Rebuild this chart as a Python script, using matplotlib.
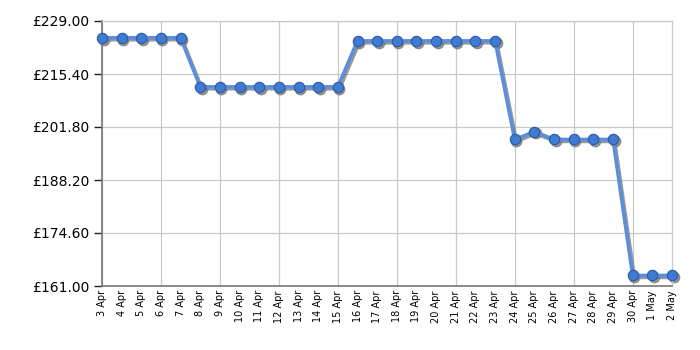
import matplotlib
matplotlib.use("Agg")
import matplotlib.pyplot as plt
import matplotlib.transforms as mtransforms
import numpy as np

dates = ["3 Apr", "4 Apr", "5 Apr", "6 Apr", "7 Apr", "8 Apr", "9 Apr", "10 Apr",
         "11 Apr", "12 Apr", "13 Apr", "14 Apr", "15 Apr", "16 Apr", "17 Apr",
         "18 Apr", "19 Apr", "20 Apr", "21 Apr", "22 Apr", "23 Apr", "24 Apr",
         "25 Apr", "26 Apr", "27 Apr", "28 Apr", "29 Apr", "30 Apr", "1 May", "2 May"]
prices = [224.7, 224.7, 224.7, 224.7, 224.7, 212.1, 212.1, 212.1,
          212.1, 212.1, 212.1, 212.1, 212.1, 223.9, 223.9,
          223.9, 223.9, 223.9, 223.9, 223.9, 223.9, 198.6,
          200.6, 198.6, 198.6, 198.6, 198.6, 163.7, 163.7, 163.7]
yticks = [161.00, 174.60, 188.20, 201.80, 215.40, 229.00]

fig = plt.figure(figsize=(7, 3.5), dpi=100)
ax = fig.add_axes([102/700, 64/350, 570/700, 265/350])
x = np.arange(len(dates))

shadow_tr = ax.transData + mtransforms.ScaledTranslation(1.5/100, -1.8/100, fig.dpi_scale_trans)
ax.plot(x, prices, color="#777777", lw=2.8, marker="o", ms=7.5, mfc="#777777",
        mec="#777777", alpha=0.75, transform=shadow_tr, zorder=2, clip_on=False)
ax.plot(x, prices, color="#5b8fdd", lw=2.6, marker="o", ms=7.5,
        mfc="#3f7bd3", mec="#2c5aa0", mew=0.8, zorder=3, clip_on=False)

ax.set_xlim(0, len(dates) - 1)
ax.set_ylim(161, 229)
ax.set_yticks(yticks)
ax.set_yticklabels([f"£{v:.2f}" for v in yticks], fontsize=10, family="DejaVu Sans")
ax.set_xticks(x)
ax.set_xticklabels(dates, rotation=90, fontsize=7, family="DejaVu Sans")

grid_x = x[::3]
for gx in grid_x:
    ax.axvline(gx, color="#c8c8c8", lw=0.9, zorder=1)
for gy in yticks:
    ax.axhline(gy, color="#c8c8c8", lw=0.9, zorder=1)

ax.tick_params(axis="x", length=0, pad=3)
ax.tick_params(axis="y", length=6, width=1, color="#222222", pad=3)
ax.set_xticks(grid_x, minor=True)
ax.tick_params(axis="x", which="minor", length=5, width=1, color="#222222")

for s in ["top", "right"]:
    ax.spines[s].set_color("#c8c8c8")
    ax.spines[s].set_linewidth(0.9)
for s in ["left", "bottom"]:
    ax.spines[s].set_color("#777777")
    ax.spines[s].set_linewidth(1.2)

fig.savefig("out.png", dpi=100)
